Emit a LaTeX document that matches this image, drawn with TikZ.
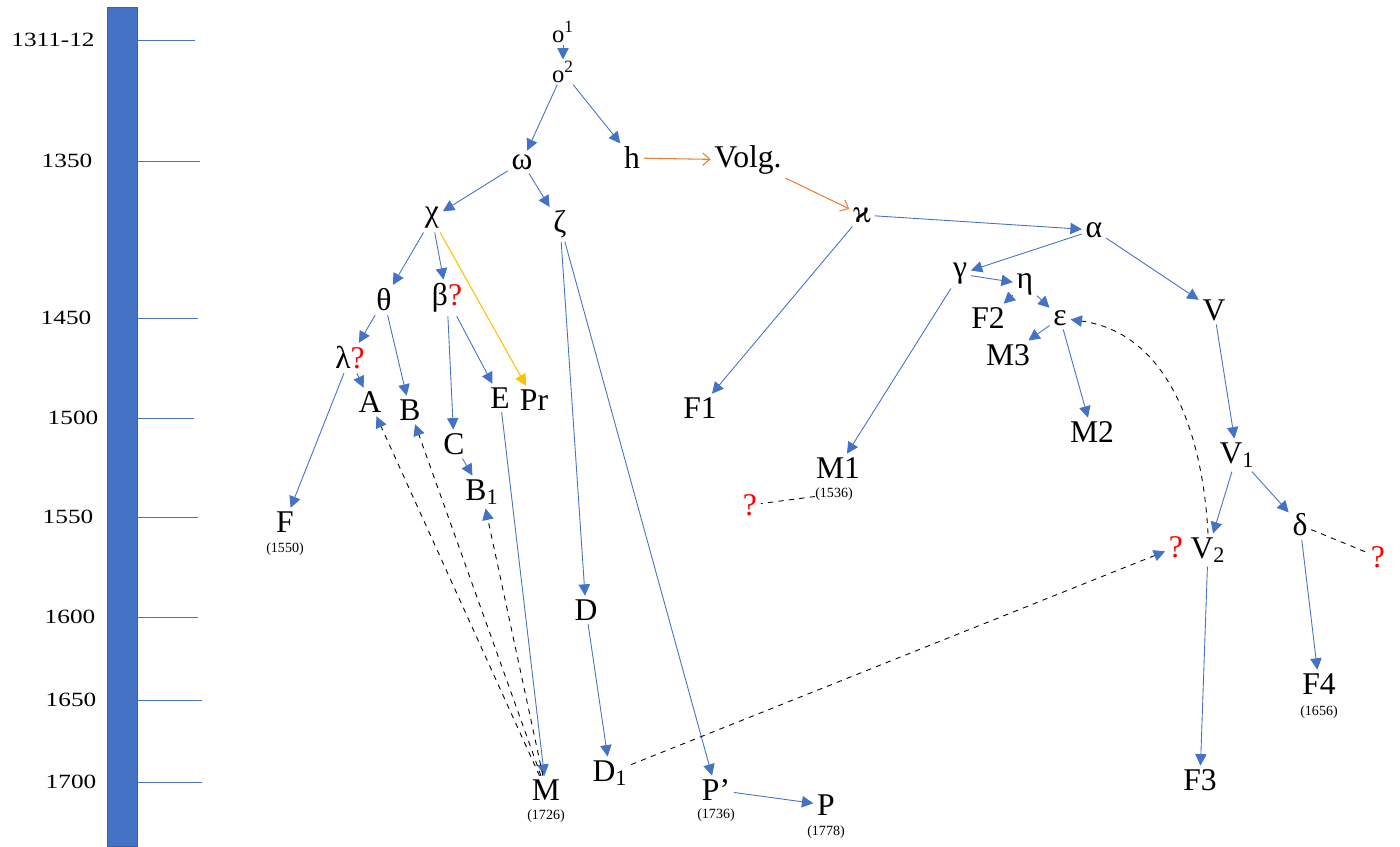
\documentclass[tikz,border=0pt]{standalone}
\usepackage{fontspec}
\setmainfont{Liberation Serif}
\newfontfamily\yearfont[FakeStretch=1.25]{Liberation Serif}
\usetikzlibrary{arrows.meta}

\definecolor{tlblue}{HTML}{4472C4}
\definecolor{tlorange}{HTML}{ED7D31}
\definecolor{tlyellow}{HTML}{FFC000}
\newcommand{\qm}{{\color{red}?}}

\tikzset{
	ms/.style={font=\fontsize{18}{18}\selectfont, inner sep=2pt},
	small ms/.style={font=\fontsize{14}{14}\selectfont, inner sep=1pt},
	date/.style={font=\fontsize{8}{8}\selectfont, inner sep=0pt},
	yearlabel/.style={font=\yearfont\fontsize{11.5}{12}\selectfont},
	tick/.style={tlblue, line width=0.45pt},
	desc/.style={tlblue, line width=0.5pt, -{Triangle[length=6.5pt,width=6.5pt]}},
	loan/.style={tlorange, line width=0.6pt, -{Straight Barb[length=4pt,width=7pt]}},
	gloss/.style={tlyellow, line width=0.6pt, -{Triangle[length=6.5pt,width=6.5pt]}},
	contam/.style={black, dashed, line width=0.5pt, -{Triangle[length=6.5pt,width=6.5pt,color=tlblue]}},
	guess/.style={black, dashed, line width=0.5pt},
}

\begin{document}
\begin{tikzpicture}[x=0.02cm, y=-0.02cm]
	\useasboundingbox (0,0) rectangle (1400,846);

	% time scale
	\fill[tlblue, draw=tlblue!85!black] (107,7) rectangle (137,846);
	\foreach \y/\lab/\xl/\xe in {40/1311-12/53/195, 161/1350/67/200, 318/1450/66/198, 418/1500/73/194,
		517/1550/68/198, 617/1600/70/198, 700/1650/71/202, 782/1700/71/202} {
		\draw[tick] (137,\y) -- (\xe,\y);
		\node[yearlabel] at (\xl,\y) {\lab};
	}

	% witnesses and hypothetical exemplars
	\node[small ms] (o1) at (563,32) {o\textsuperscript{1}};
	\node[small ms] (o2) at (563,72) {o\textsuperscript{2}};
	\node[ms] (omega) at (522,162) {ω};
	\node[ms] (h) at (632,158) {h};
	\node[ms] (volg) at (748,160) {Volg.};
	\node[ms] (kappa) at (862,215) {ϰ};
	\node[ms] (chi) at (432,218) {χ};
	\node[ms] (zeta) at (560,224) {ζ};
	\node[ms] (alpha) at (1094,230) {α};
	\node[ms] (theta) at (384,300) {θ};
	\node[ms] (beta) at (447,298) {β\qm};
	\node[ms] (gamma) at (960,274) {γ};
	\node[ms] (eta) at (1025,284) {η};
	\node[ms] (F2) at (988,318) {F2};
	\node[ms] (eps) at (1060,318) {ε};
	\node[ms] (M3) at (1008,355) {M3};
	\node[ms] (V) at (1214,310) {V};
	\node[ms] (lambda) at (350,358) {λ\qm};
	\node[ms] (A) at (370,402) {A};
	\node[ms] (B) at (410,410) {B};
	\node[ms] (E) at (500,398) {E};
	\node[ms] (Pr) at (534,400) {Pr};
	\node[ms] (F1) at (700,408) {F1};
	\node[ms] (C) at (454,444) {C};
	\node[ms] (M2) at (1092,432) {M2};
	\node[ms] (V1) at (1237,455) {V\textsubscript{1}};
	\node[ms] (M1) at (838,468) {M1};
	\node[date] (M1d) at (834,494) {(1536)};
	\node[ms] (q1) at (750,505) {\qm};
	\node[ms] (B1) at (482,492) {B\textsubscript{1}};
	\node[ms] (F) at (285,522) {F};
	\node[date] (Fd) at (285,549) {(1550)};
	\node[ms] (V2) at (1208,550) {V\textsubscript{2}};
	\node[ms] (q2) at (1176,547) {\qm};
	\node[ms] (delta) at (1300,525) {δ};
	\node[ms] (q3) at (1378,557) {\qm};
	\node[ms] (D) at (586,610) {D};
	\node[ms] (F4) at (1319,684) {F4};
	\node[date] (F4d) at (1319,712) {(1656)};
	\node[ms] (F3) at (1200,780) {F3};
	\node[ms] (M) at (546,790) {M};
	\node[date] (Md) at (546,816) {(1726)};
	\node[ms] (D1) at (610,773) {D\textsubscript{1}};
	\node[ms] (Pp) at (716,790) {P’};
	\node[date] (Ppd) at (716,815) {(1736)};
	\node[ms] (P) at (826,805) {P};
	\node[date] (Pd) at (826,832) {(1778)};

	% descent
	\draw[desc] (o1) -- (o2);
	\draw[desc] (o2) -- (omega);
	\draw[desc] (o2) -- (h);
	\draw[loan] (h) -- (volg);
	\draw[loan] (volg) -- (kappa);
	\draw[desc] (omega) -- (chi);
	\draw[desc] (omega) -- (zeta);
	\draw[desc] (kappa) -- (alpha);
	\draw[desc] (kappa) -- (F1);
	\draw[desc] (alpha) -- (gamma);
	\draw[desc] (alpha) -- (V);
	\draw[desc] (chi) -- (theta);
	\draw[desc] (chi) -- (beta);
	\draw[gloss] (chi) -- (Pr);
	\draw[desc] (zeta) -- (D);
	\draw[desc] (zeta) -- (Pp);
	\draw[desc] (gamma) -- (eta);
	\draw[desc] (gamma) -- (M1);
	\draw[desc] (eta) -- (F2);
	\draw[desc] (eta) -- (eps);
	\draw[desc] (eps) -- (M3);
	\draw[desc] (eps) -- (M2);
	\draw[desc] (V) -- (V1);
	\draw[desc] (theta) -- (lambda);
	\draw[desc] (theta) -- (B);
	\draw[desc] (lambda) -- (A);
	\draw[desc] (lambda) -- (F);
	\draw[desc] (beta) -- (C);
	\draw[desc] (beta) -- (E);
	\draw[desc] (C) -- (B1);
	\draw[desc] (E) -- (M);
	\draw[desc] (D) -- (D1);
	\draw[desc] (Pp) -- (P);
	\draw[desc] (V1) -- (V2);
	\draw[desc] (V1) -- (delta);
	\draw[desc] (V2) -- (F3);
	\draw[desc] (delta) -- (F4);

	% contamination
	\draw[contam] (M) -- (A);
	\draw[contam] (M) -- (B);
	\draw[contam] (M) -- (B1);
	\draw[contam] (D1) -- (q2);
	\draw[contam] (V2.north) to[out=93, in=-8] (eps);
	\draw[guess] (M1d) -- (q1);
	\draw[guess] (delta) -- (q3);
\end{tikzpicture}
\end{document}
